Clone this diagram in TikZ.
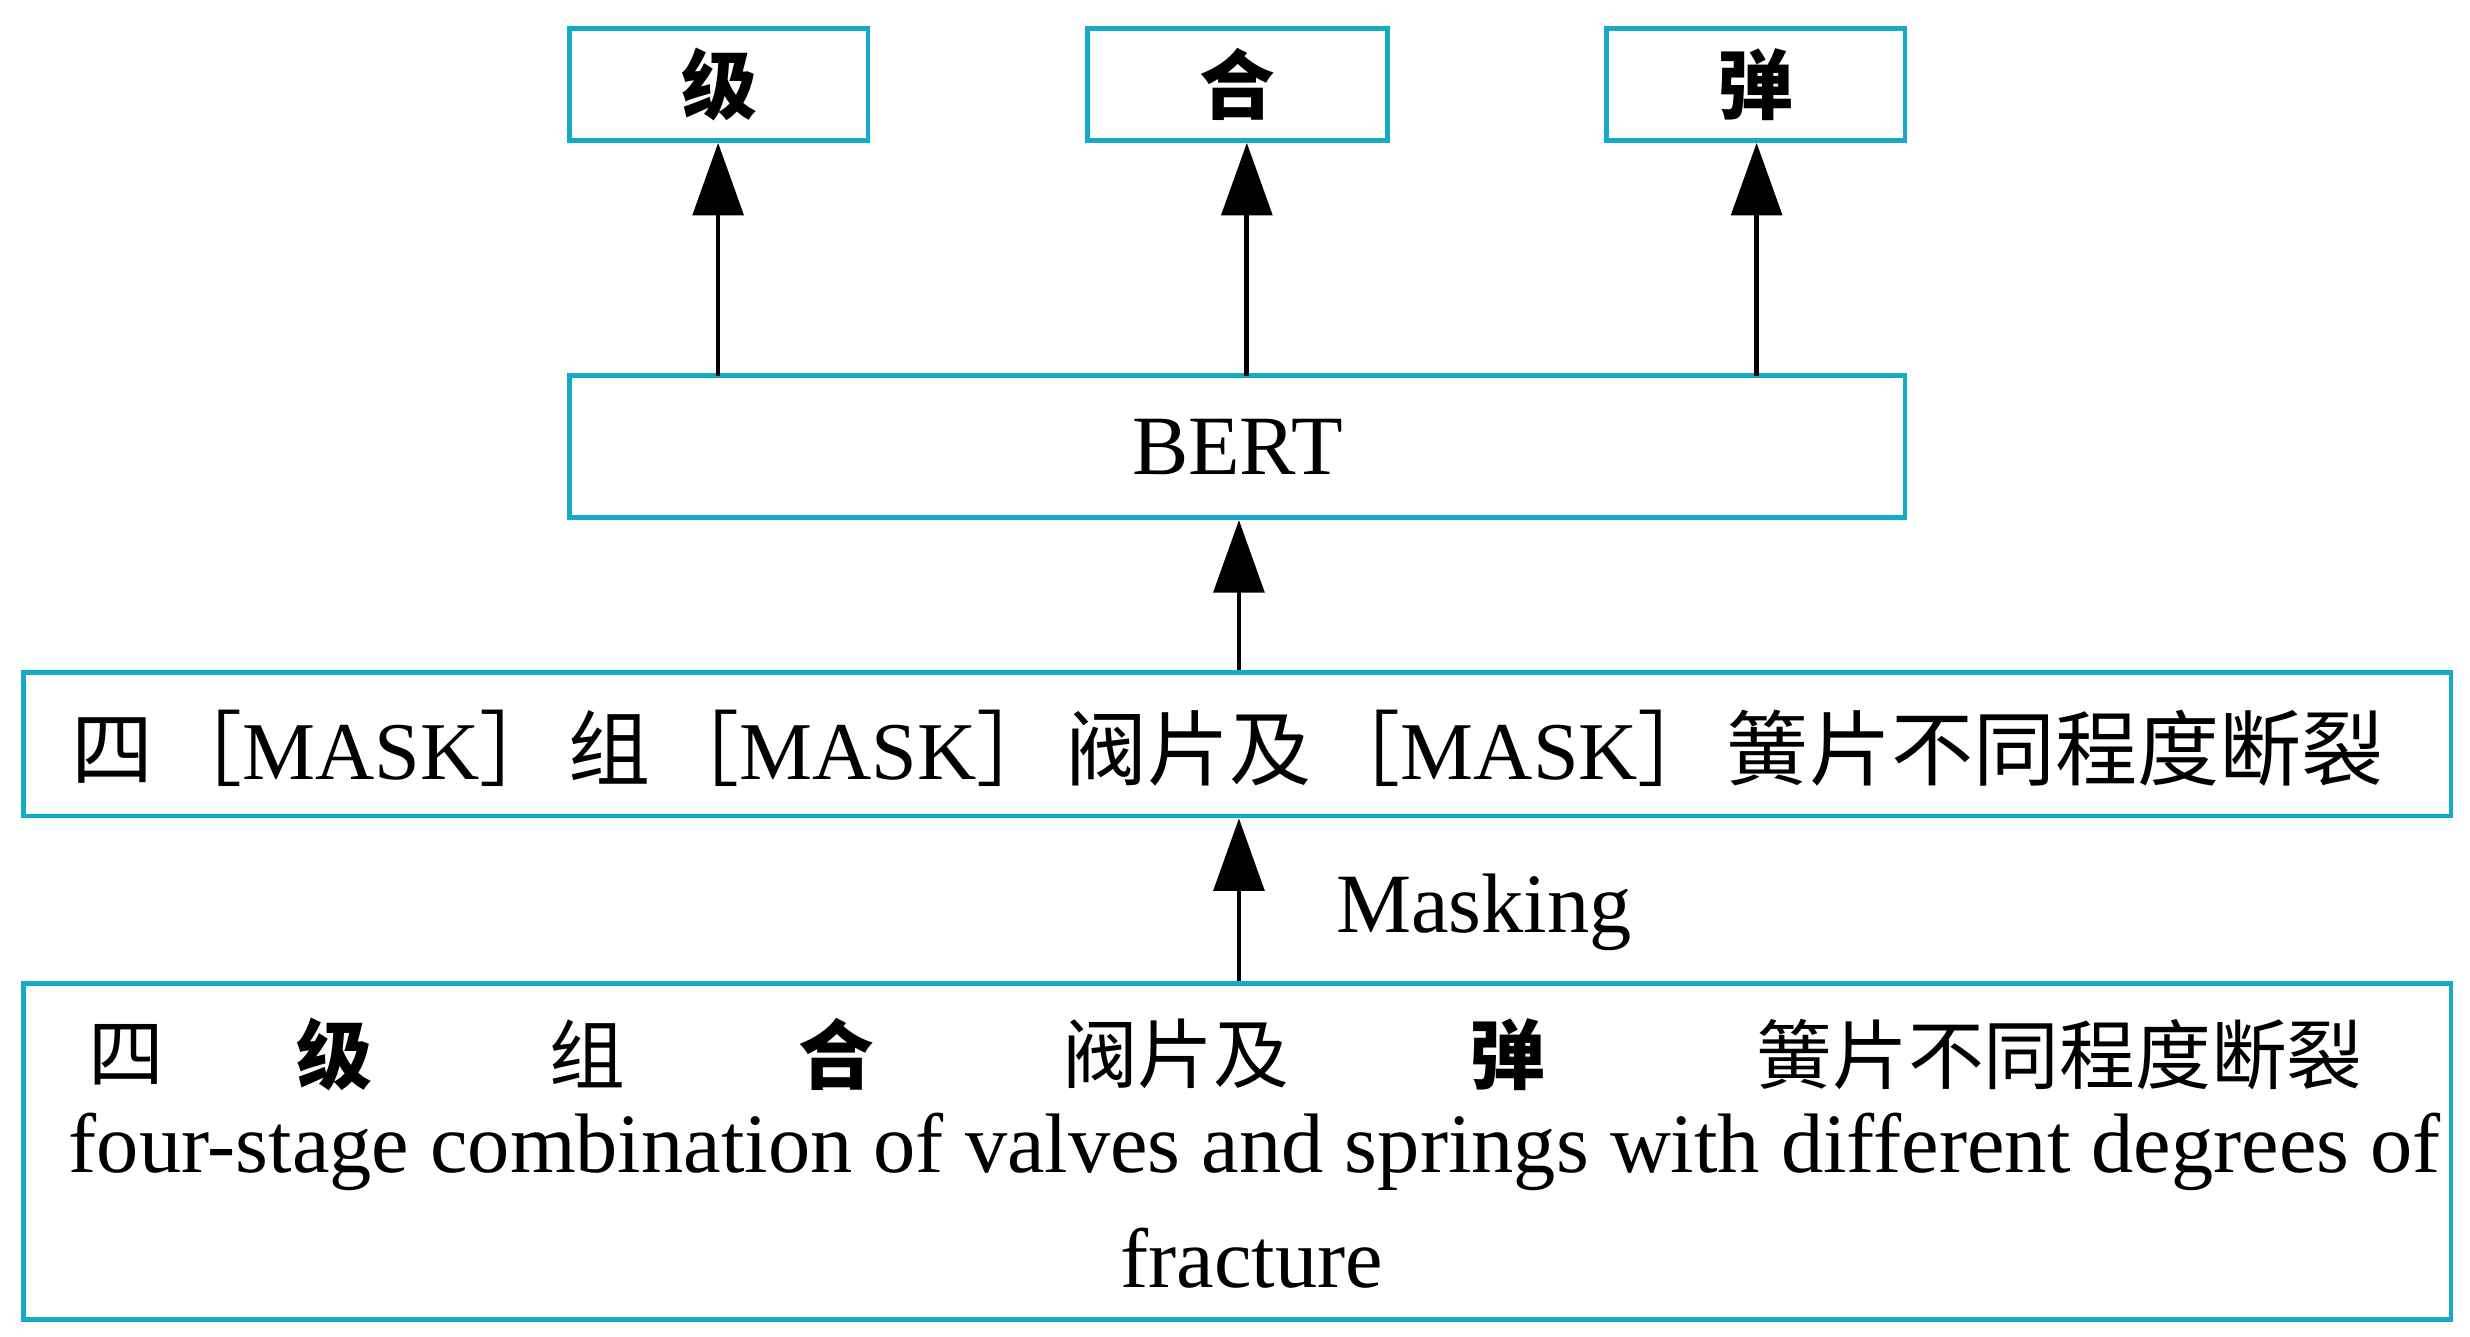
\documentclass[tikz,border=0pt]{standalone}
\usepackage{fontspec}
\setmainfont{Liberation Serif}
\newfontfamily\cjk{Noto Sans CJK SC}
\usetikzlibrary{arrows.meta}
\definecolor{boxc}{RGB}{20,170,200}
\begin{document}
\begin{tikzpicture}[x=1pt,y=-1pt,
  bx/.style={draw=boxc,line width=3pt,inner sep=0pt},
  ar/.style={line width=3pt,-{Triangle[width=32pt,length=46pt]}},
  cj/.style={font=\fontsize{48}{52}\selectfont\cjk},
  cjb/.style={font=\fontsize{48}{52}\selectfont\cjk\bfseries},
  lt/.style={font=\fontsize{53.5}{56}\selectfont}]
\useasboundingbox (0,0) rectangle (1565,847);
\node[bx,minimum width=189pt,minimum height=71pt,cjb] (t1) at (455.5,53.5) {级};
\node[bx,minimum width=190pt,minimum height=71pt,cjb] (t2) at (784,53.5) {合};
\node[bx,minimum width=189pt,minimum height=71pt,cjb] (t3) at (1112.5,53.5) {弹};
\node[bx,minimum width=846pt,minimum height=90pt,lt] (bert) at (784,283) {BERT};
\node[bx,minimum width=1538pt,minimum height=91pt] (mask) at (784,471.5) {};
\node[bx,minimum width=1538pt,minimum height=213pt] (src) at (784,729.5) {};
\coordinate (a1) at (455,238); \coordinate (a2) at (790,238); \coordinate (a3) at (1113,238);
\draw[ar] (a1) -- (a1|-t1.south);
\draw[ar] (a2) -- (a2|-t2.south);
\draw[ar] (a3) -- (a3|-t3.south);
\draw[ar] (mask.north-|785,0) -- (bert.south-|785,0);
\draw[ar] (src.north-|785,0) -- (mask.south-|785,0);
\node[lt,anchor=west] (mk) at (843,578) {Masking};
\node[anchor=west,inner sep=0pt] (ml) at (45,474) {\fontsize{52}{56}\selectfont\hbox to 1465pt{{\cjk 四}\hfill{\cjk ［}MASK{\cjk ］}\hfill{\cjk 组}\hfill{\cjk ［}MASK{\cjk ］}\hfill{\cjk 阀片及}\hfill{\cjk ［}MASK{\cjk ］}\hfill{\cjk 簧片不同程度断裂}}};
\node[cj] (c1) at (80,668) {四};
\node[cjb] (c2) at (212,668) {级};
\node[cj] (c3) at (372,668) {组};
\node[cjb] (c4) at (530,668) {合};
\node[cj] (c5) at (745,668) {阀片及};
\node[cjb] (c6) at (955,668) {弹};
\node[cj] (c7) at (1305,668) {簧片不同程度断裂};
\node[lt] (e1) at (795,730) {four-stage combination of valves and springs with different degrees of};
\node[lt] (e2) at (793,797) {fracture};
\end{tikzpicture}
\end{document}
